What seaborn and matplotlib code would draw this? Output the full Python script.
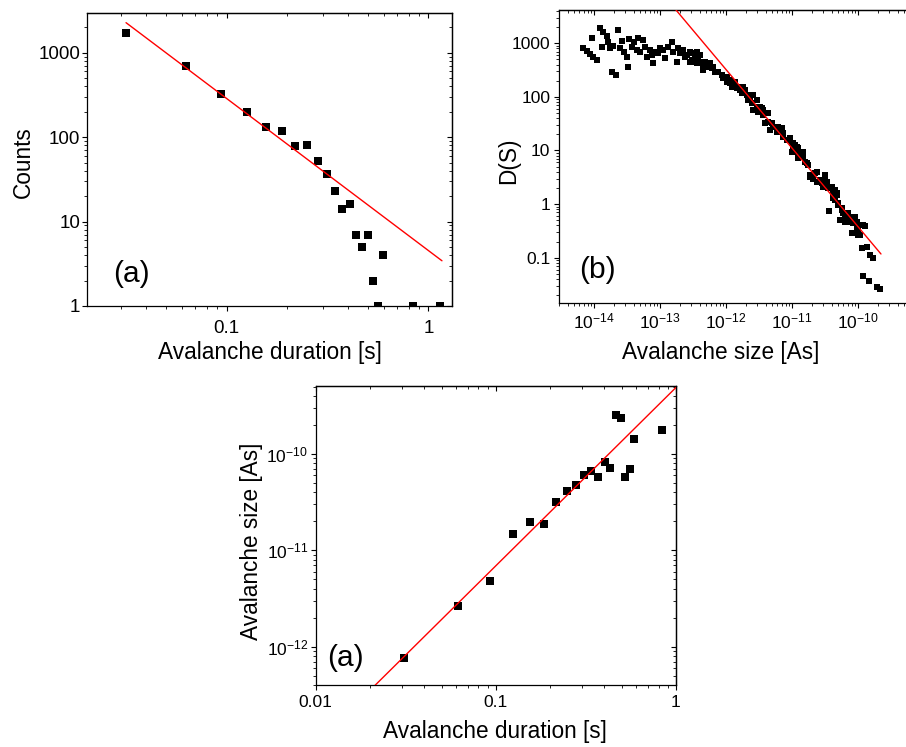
import numpy as np
import pandas as pd
import seaborn as sns
import matplotlib
matplotlib.use("Agg")
import matplotlib.pyplot as plt
from matplotlib.ticker import LogLocator, FuncFormatter, NullFormatter, LogFormatterSciNotation

# ---------------- data ----------------
# (a) avalanche duration distribution
duration_s = [0.0316, 0.063, 0.0937, 0.1256, 0.1567, 0.188, 0.219, 0.251, 0.283,
              0.313, 0.344, 0.374, 0.407, 0.438, 0.47, 0.50, 0.533, 0.565, 0.596,
              0.843, 1.14]
duration_counts = [1700, 690, 327, 200, 132, 118, 79, 80, 52,
                   37, 23, 14, 16, 7, 5, 7, 2, 1, 4,
                   1, 1]
# power-law fit  counts = A * t^k
duration_fit_amp = 4.54
duration_fit_exp = -1.80
duration_fit_range = (0.0317, 1.168)

# (b) avalanche size distribution D(S)
size_as = [6.9e-15, 7.7e-15, 8.7e-15, 9.8e-15, 1.1e-14, 9.2e-15, 1.23e-14, 1.38e-14,
           1.3e-14, 1.56e-14, 1.65e-14, 1.75e-14, 1.96e-14, 1.85e-14, 2.13e-14, 2.34e-14,
           2.63e-14, 2.48e-14, 2.88e-14, 3.13e-14, 3.24e-14, 3.39e-14, 3.72e-14, 4.08e-14,
           4.43e-14, 4.69e-14, 4.98e-14, 5.58e-14, 5.92e-14, 6.28e-14, 7.05e-14, 7.48e-14,
           7.93e-14, 8.4e-14, 9.4e-14, 1.0e-13, 1.12e-13, 1.19e-13, 1.34e-13, 1.5e-13,
           1.59e-13, 1.79e-13, 1.89e-13, 2.13e-13, 2.25e-13, 2.54e-13, 2.85e-13, 3.02e-13,
           3.39e-13, 3.6e-13, 4.04e-13, 4.28e-13, 4.53e-13,
           2.01e-13, 2.39e-13, 2.85e-13, 3.39e-13, 3.81e-13, 4.54e-13, 5.09e-13, 6.07e-13,
           6.81e-13,
           3.02e-13, 3.6e-13, 3.39e-13, 3.8e-13, 4.28e-13, 4.81e-13, 4.53e-13, 5.4e-13,
           5.73e-13, 6.43e-13, 6.81e-13, 7.64e-13, 8.6e-13, 9.1e-13, 1.02e-12, 1.02e-12,
           1.15e-12, 1.22e-12, 1.37e-12, 1.45e-12, 1.63e-12, 1.73e-12, 1.83e-12, 2.06e-12,
           2.18e-12, 2.31e-12, 2.45e-12, 2.6e-12, 2.92e-12, 3.09e-12, 3.48e-12, 3.67e-12,
           3.9e-12, 4.37e-12, 4.64e-12, 5.2e-12, 5.86e-12, 6.2e-12, 6.98e-12, 7.38e-12,
           8.3e-12, 9.3e-12, 1.05e-11, 1.18e-11,
           1.15e-12, 1.37e-12, 1.63e-12, 1.94e-12, 2.18e-12, 2.6e-12, 2.92e-12, 3.27e-12,
           3.68e-12, 4.38e-12, 4.92e-12, 5.52e-12, 6.58e-12, 7.39e-12, 8.8e-12, 1.05e-11,
           1.25e-11, 1.49e-11,
           9.9e-12, 1.11e-11, 1.25e-11, 1.48e-11, 1.32e-11, 1.57e-11, 1.77e-11, 1.87e-11,
           2.1e-11, 2.37e-11, 2.5e-11, 2.82e-11, 3.16e-11, 2.98e-11, 3.36e-11, 3.55e-11,
           3.99e-11, 4.22e-11, 4.75e-11, 4.48e-11, 5.04e-11, 3.67e-11, 5.66e-11, 6.35e-11,
           6.74e-11, 5.66e-11, 7.13e-11, 8.0e-11, 9.0e-11, 8.5e-11, 9.55e-11, 8.0e-11,
           1.07e-10, 1.28e-10, 1.01e-10, 1.14e-10, 1.36e-10, 1.52e-10, 1.71e-10, 1.18e-10,
           1.47e-10, 1.96e-10, 2.15e-10,
           9.9e-12, 1.32e-11, 1.48e-11, 1.25e-11, 1.67e-11, 1.87e-11, 2.23e-11, 2.37e-11,
           2.66e-11, 3.16e-11, 2.82e-11, 3.36e-11, 3.99e-11, 4.48e-11, 4.75e-11, 4.22e-11,
           5.04e-11, 5.66e-11, 6.0e-11, 6.74e-11, 5.33e-11, 6.35e-11, 7.57e-11, 8.5e-11,
           9.55e-11, 9.0e-11, 1.2e-10, 8.0e-11, 1.01e-10]
size_density = [807, 718, 631, 563, 488, 1240, 1900, 1650,
                865, 1390, 1070, 807, 902, 295, 256, 1770,
                1100, 807, 697, 562, 366, 1200, 865, 1070,
                750, 1240, 697, 1150, 865, 562, 750, 605,
                424, 697, 650, 807, 750, 525, 865, 1070,
                697, 454, 807, 650, 750, 605, 697, 488,
                562, 424, 605, 454, 342,
                650, 564, 455, 605, 424, 394, 367, 342,
                296,
                650, 697, 454, 525, 424, 454, 318, 394,
                424, 366, 295, 295, 256, 222, 238, 192,
                180, 155, 192, 145, 135, 117, 155, 108,
                87.5, 101, 76, 57, 65.6, 53, 61, 45.9,
                32, 34.4, 24, 27.8, 22.4, 27.8, 26, 18,
                15.7, 16.9, 13.6, 11.8,
                207, 180, 156, 135, 101, 109, 88, 66,
                57, 49, 32, 27.9, 25.9, 21, 15.7, 11.8,
                9.5, 7.7,
                13.6, 12.7, 11, 9.5, 7.7, 6.2, 5.4, 3.5,
                3.0, 4.0, 2.6, 2.44, 3.5, 2.1, 2.6, 1.97,
                2.1, 1.7, 1.59, 1.19, 0.96, 0.75, 0.78, 0.63,
                0.50, 0.50, 0.67, 0.58, 0.58, 0.44, 0.47, 0.285,
                0.265, 0.39, 0.33, 0.15, 0.16, 0.112, 0.097, 0.046,
                0.037, 0.029, 0.0257,
                9.5, 8.9, 9.5, 7.1, 5.8, 3.2, 3.76, 2.6,
                2.8, 3.2, 2.44, 2.1, 2.1, 1.83, 1.48, 1.28,
                1.03, 0.84, 0.67, 0.58, 0.50, 0.47, 0.47, 0.44,
                0.38, 0.54, 0.41, 0.285, 0.265]
# power-law fit  D = D0 * (S / S0)^k
size_fit_d0 = 11.1
size_fit_s0 = 1e-11
size_fit_exp = -1.465
size_fit_range = (1e-13, 2.23e-10)

# (c) mean avalanche size versus duration
mean_duration_s = [0.0308, 0.0617, 0.0929, 0.124, 0.155, 0.185, 0.217, 0.247, 0.279,
                   0.310, 0.339, 0.371, 0.402, 0.432, 0.463, 0.493, 0.523, 0.556,
                   0.587, 0.833]
mean_size_as = [7.57e-13, 2.67e-12, 4.84e-12, 1.49e-11, 1.97e-11, 1.89e-11, 3.2e-11,
                4.13e-11, 4.73e-11, 6.05e-11, 6.71e-11, 5.77e-11, 8.32e-11, 7.21e-11,
                2.54e-10, 2.34e-10, 5.73e-11, 7.05e-11, 1.42e-10, 1.76e-10]
# scaling fit  S = A * t^k
scaling_fit_amp = 4.89e-10
scaling_fit_exp = 1.85
scaling_fit_range = (0.02, 1.0)

# ---------------- style ----------------
sns.set_theme(style="ticks")
plt.rcParams["font.family"] = ["Liberation Sans", "DejaVu Sans"]
plt.rcParams["mathtext.fontset"] = "custom"
plt.rcParams["mathtext.rm"] = "Liberation Sans"
plt.rcParams["mathtext.it"] = "Liberation Sans:italic"
plt.rcParams["mathtext.default"] = "regular"
plt.rcParams["axes.edgecolor"] = "black"
plt.rcParams["axes.linewidth"] = 0.9
plt.rcParams["text.color"] = "black"
plt.rcParams["axes.labelcolor"] = "black"
plt.rcParams["xtick.color"] = "black"
plt.rcParams["ytick.color"] = "black"

W, H = 906, 747
fig = plt.figure(figsize=(W / 100, H / 100), dpi=100)
fig.patch.set_facecolor("white")


def rect(left, top, right, bottom):
    return [left / W, 1 - bottom / H, (right - left) / W, (bottom - top) / H]


def fx(x):
    return x / W


def fy(y):
    return 1 - y / H


plain = FuncFormatter(lambda v, p: f"{v:g}")


def style_log_axes(ax, xfmt, yfmt, size, xpad, ypad):
    ax.set_xscale("log")
    ax.set_yscale("log")
    for axis, fmt in ((ax.xaxis, xfmt), (ax.yaxis, yfmt)):
        axis.set_major_locator(LogLocator(base=10, numticks=30))
        axis.set_minor_locator(LogLocator(base=10, subs=np.arange(2, 10), numticks=30))
        axis.set_major_formatter(fmt)
        axis.set_minor_formatter(NullFormatter())
    ax.tick_params(which="both", direction="out", color="black", labelcolor="black",
                   top=False, right=False, labelsize=size)
    ax.tick_params(which="major", length=3.3, width=0.8)
    ax.tick_params(which="minor", length=2.0, width=0.6)
    ax.tick_params(axis="x", which="major", pad=xpad)
    ax.tick_params(axis="y", which="major", pad=ypad)
    for sp in ax.spines.values():
        sp.set_color("black")
        sp.set_linewidth(0.9)
    # mirrored inward ticks on the top and right sides
    top = ax.secondary_xaxis("top")
    right = ax.secondary_yaxis("right")
    for sec, axis in ((top, top.xaxis), (right, right.yaxis)):
        axis.set_major_locator(LogLocator(base=10, numticks=30))
        axis.set_minor_locator(LogLocator(base=10, subs=np.arange(2, 10), numticks=30))
        axis.set_major_formatter(NullFormatter())
        axis.set_minor_formatter(NullFormatter())
        sec.tick_params(which="both", direction="in", color="black")
        sec.tick_params(which="major", length=3.3, width=0.8)
        sec.tick_params(which="minor", length=2.0, width=0.6)
        for sp in sec.spines.values():
            sp.set_color("black")
            sp.set_linewidth(0.9)


LABEL = 16.3
LETTER = 21.5

# ---------------- (a) duration distribution ----------------
ax1 = fig.add_axes(rect(87, 13, 452, 306))
sns.scatterplot(x=duration_s, y=duration_counts, ax=ax1, marker="s", s=37,
                color="black", linewidth=0, zorder=2)
t_fit = np.geomspace(*duration_fit_range, 60)
sns.lineplot(x=t_fit, y=duration_fit_amp * t_fit ** duration_fit_exp, ax=ax1,
             color="red", linewidth=1.0, zorder=3)
style_log_axes(ax1, plain, plain, 13.5, 6.5, 1.5)
ax1.set_xlim(0.0203, 1.31)
ax1.set_ylim(1, 2950)
fig.text(fx(270), fy(359), "Avalanche duration [s]", fontsize=LABEL,
         ha="center", va="baseline")
fig.text(fx(30), fy(162), "Counts", fontsize=LABEL, rotation=90,
         rotation_mode="anchor", ha="center", va="baseline")
fig.text(fx(113), fy(281.5), "(a)", fontsize=LETTER, ha="left", va="baseline")

# ---------------- (b) size distribution ----------------
ax2 = fig.add_axes(rect(559.3, 10, 916, 302.7))
sns.scatterplot(x=size_as, y=size_density, ax=ax2, marker="s", s=24,
                color="black", linewidth=0, zorder=2)
s_fit = np.geomspace(*size_fit_range, 60)
sns.lineplot(x=s_fit, y=size_fit_d0 * (s_fit / size_fit_s0) ** size_fit_exp, ax=ax2,
             color="red", linewidth=1.0, zorder=3)
style_log_axes(ax2, LogFormatterSciNotation(), plain, 12.5, 3.0, 3.2)
ax2.set_xlim(2.98e-15, 7.57e-10)
ax2.set_ylim(0.0145, 4170)
fig.text(fx(721), fy(359), "Avalanche size [As]", fontsize=LABEL,
         ha="center", va="baseline")
fig.text(fx(515), fy(161), "D(S)", fontsize=LABEL, rotation=90,
         rotation_mode="anchor", ha="center", va="baseline")
fig.text(fx(579), fy(278.5), "(b)", fontsize=LETTER, ha="left", va="baseline")

# ---------------- (c) size versus duration ----------------
ax3 = fig.add_axes(rect(315.7, 385.7, 676, 685))
sns.scatterplot(x=mean_duration_s, y=mean_size_as, ax=ax3, marker="s", s=37,
                color="black", linewidth=0, zorder=2)
c_fit = np.geomspace(*scaling_fit_range, 60)
sns.lineplot(x=c_fit, y=scaling_fit_amp * c_fit ** scaling_fit_exp, ax=ax3,
             color="red", linewidth=1.0, zorder=3)
style_log_axes(ax3, plain, LogFormatterSciNotation(), 12.5, 4.0, 2.2)
ax3.set_xlim(0.01, 1)
ax3.set_ylim(4.0e-13, 5.1e-10)
fig.text(fx(495), fy(738), "Avalanche duration [s]", fontsize=LABEL,
         ha="center", va="baseline")
fig.text(fx(258), fy(541), "Avalanche size [As]", fontsize=LABEL, rotation=90,
         rotation_mode="anchor", ha="center", va="baseline")
fig.text(fx(327), fy(666.5), "(a)", fontsize=LETTER, ha="left", va="baseline")

for ax in (ax1, ax2, ax3):
    ax.set_xlabel("")
    ax.set_ylabel("")
    if ax.get_legend() is not None:
        ax.get_legend().remove()

fig.savefig("out.png", dpi=100, facecolor="white")
